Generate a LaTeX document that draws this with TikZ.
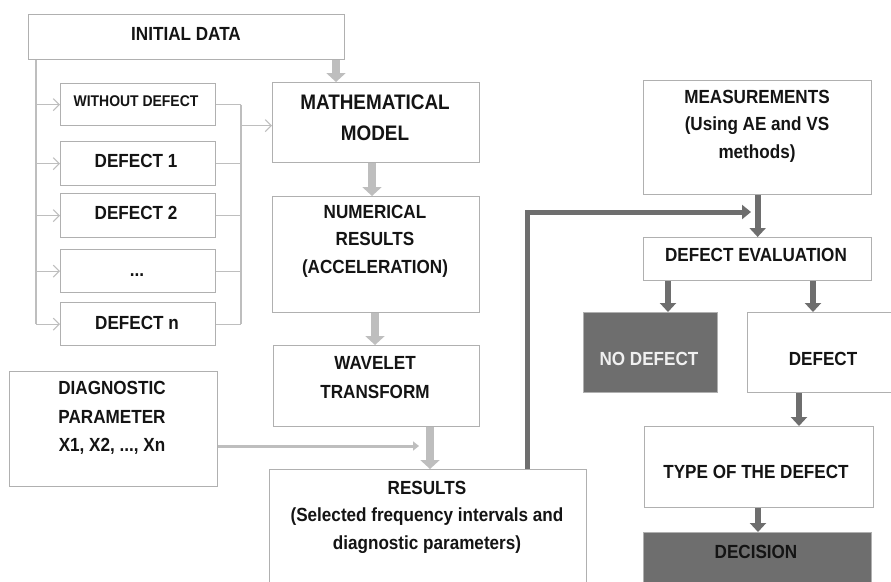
\documentclass[tikz,border=0pt]{standalone}
\usepackage{fontspec}
\newfontfamily\lab{Liberation Sans}[FakeStretch=0.9]
\usetikzlibrary{arrows.meta,calc}
\definecolor{bgray}{HTML}{B0B0B0}
\definecolor{lgray}{HTML}{BEBEBE}
\definecolor{dgray}{HTML}{6E6E6E}
\definecolor{ink}{HTML}{141414}
\tikzset{
  box/.style={draw=bgray, line width=1.3pt, inner sep=0pt, anchor=north west},
  darkbox/.style={box, fill=dgray},
  txt/.style={font=\lab\bfseries\fontsize{19}{27.5}\selectfont, align=center, inner sep=0pt, text=ink},
  thinln/.style={draw=lgray, line width=1.2pt},
  thinarr/.style={thinln, -{Straight Barb[length=6pt,width=12pt,line width=1.1pt]}},
  lightarr/.style={draw=lgray, line width=8pt, -{Triangle[length=9pt,width=19pt]}},
  darkarr/.style={draw=dgray, line width=6pt, -{Triangle[length=9pt,width=16pt]}},
  fbarr/.style={draw=dgray, line width=5pt, -{Triangle[length=9pt,width=14pt]}},
  diagarr/.style={draw=lgray, line width=3pt, -{Triangle[length=6pt,width=9pt]}}
}
\begin{document}
\begin{tikzpicture}[x=1pt,y=-1pt]
\clip (0,0) rectangle (891,581);
\fill[white] (0,0) rectangle (891,581);
% boxes
\node[box, minimum width=316pt, minimum height=45pt] (init) at (28,14) {};
\node[box, minimum width=155pt, minimum height=42pt] (wo) at (60,83) {};
\node[box, minimum width=155pt, minimum height=44pt] (d1) at (60,141) {};
\node[box, minimum width=155pt, minimum height=44pt] (d2) at (60,193) {};
\node[box, minimum width=155pt, minimum height=43pt] (dots) at (60,249) {};
\node[box, minimum width=155pt, minimum height=43pt] (dn) at (60,302) {};
\node[box, minimum width=207pt, minimum height=80pt] (math) at (272,82) {};
\node[box, minimum width=207pt, minimum height=116pt] (num) at (272,196) {};
\node[box, minimum width=206pt, minimum height=81pt] (wav) at (273,345) {};
\node[box, minimum width=317pt, minimum height=140pt] (res) at (269,469) {};
\node[box, minimum width=208pt, minimum height=115pt] (diag) at (9,371) {};
\node[box, minimum width=228pt, minimum height=114pt] (meas) at (643,80) {};
\node[box, minimum width=228pt, minimum height=43pt] (eval) at (643,237) {};
\node[darkbox, minimum width=134pt, minimum height=80pt] (nodef) at (583,312) {};
\node[box, minimum width=150pt, minimum height=80pt] (defect) at (747,312) {};
\node[box, minimum width=229pt, minimum height=81pt] (type) at (644,426) {};
\node[darkbox, minimum width=228pt, minimum height=80pt] (dec) at (643,532) {};
% texts
\node[txt] (init-t) at (186,34) {INITIAL DATA};
\node[txt, font=\lab\bfseries\fontsize{15.5}{18}\selectfont] (wo-t) at (136,101) {WITHOUT DEFECT};
\node[txt] (d1-t) at (136,161) {DEFECT 1};
\node[txt] (d2-t) at (136,213) {DEFECT 2};
\node[txt, anchor=base] (dots-t) at (137,276) {...};
\node[txt] (dn-t) at (137,323) {DEFECT n};
\node[txt, font=\lab\bfseries\fontsize{21}{31}\selectfont] (math-t) at (375,117.5) {MATHEMATICAL\\MODEL};
\node[txt] (num-t) at (375,241) {NUMERICAL\\RESULTS\\(ACCELERATION)};
\node[txt, font=\lab\bfseries\fontsize{19}{29}\selectfont] (wav-t) at (375,377.5) {WAVELET\\TRANSFORM};
\node[txt] (res-t) at (427,517) {RESULTS\\(Selected frequency intervals and\\diagnostic parameters)};
\node[txt, font=\lab\bfseries\fontsize{19}{28.5}\selectfont] (diag-t) at (112,418) {DIAGNOSTIC\\PARAMETER\\X1, X2, ..., Xn};
\node[txt] (meas-t) at (757,126) {MEASUREMENTS\\(Using AE and VS\\methods)};
\node[txt] (eval-t) at (756,255) {DEFECT EVALUATION};
\node[txt, text=white!94!black] (nod-t) at (649,359) {NO DEFECT};
\node[txt] (def-t) at (823,359) {DEFECT};
\node[txt] (type-t) at (756,472) {TYPE OF THE DEFECT};
\node[txt] (dec-t) at (756,552) {DECISION};
% helper coordinates
\coordinate (lx) at (36,0);
\coordinate (rx) at (241,0);
\coordinate (a1) at (336,0);
\coordinate (a2) at (372,0);
\coordinate (a3) at (375,0);
\coordinate (a4) at (430,0);
\coordinate (dgend) at (419,446);
\coordinate (b1) at (668,0);
\coordinate (b2) at (813,0);
\coordinate (b3) at (799,0);
\coordinate (b4) at (758,0);
\coordinate (fbx) at (527,0);
\coordinate (fbend) at (751,212);
% left tree
\draw[thinln] (init.south -| lx) -- (dn.west -| lx);
\foreach \b in {wo,d1,d2,dots,dn}{
  \draw[thinarr] (\b.west -| lx) -- (\b.west);
  \draw[thinln] (\b.east) -- (\b.east -| rx);
}
\draw[thinln] (wo.east -| rx) -- (dn.east -| rx);
\draw[thinarr] ($(math.west -| rx)+(0,3)$) -- ($(math.west)+(0,3)$);
% light thick arrows
\draw[lightarr] (init.south -| a1) -- (math.north -| a1);
\draw[lightarr] (math.south -| a2) -- (num.north -| a2);
\draw[lightarr] (num.south -| a3) -- (wav.north -| a3);
\draw[lightarr] (wav.south -| a4) -- (res.north -| a4);
\draw[diagarr] (diag.east |- dgend) -- (dgend);
% dark arrows
\draw[darkarr] (meas.south) -- (eval.north);
\draw[darkarr] (eval.south -| b1) -- (nodef.north -| b1);
\draw[darkarr] (eval.south -| b2) -- (defect.north -| b2);
\draw[darkarr] (defect.south -| b3) -- (type.north -| b3);
\draw[darkarr] (type.south -| b4) -- (dec.north -| b4);
\draw[fbarr] (res.north -| fbx) |- (fbend);
\end{tikzpicture}
\end{document}
